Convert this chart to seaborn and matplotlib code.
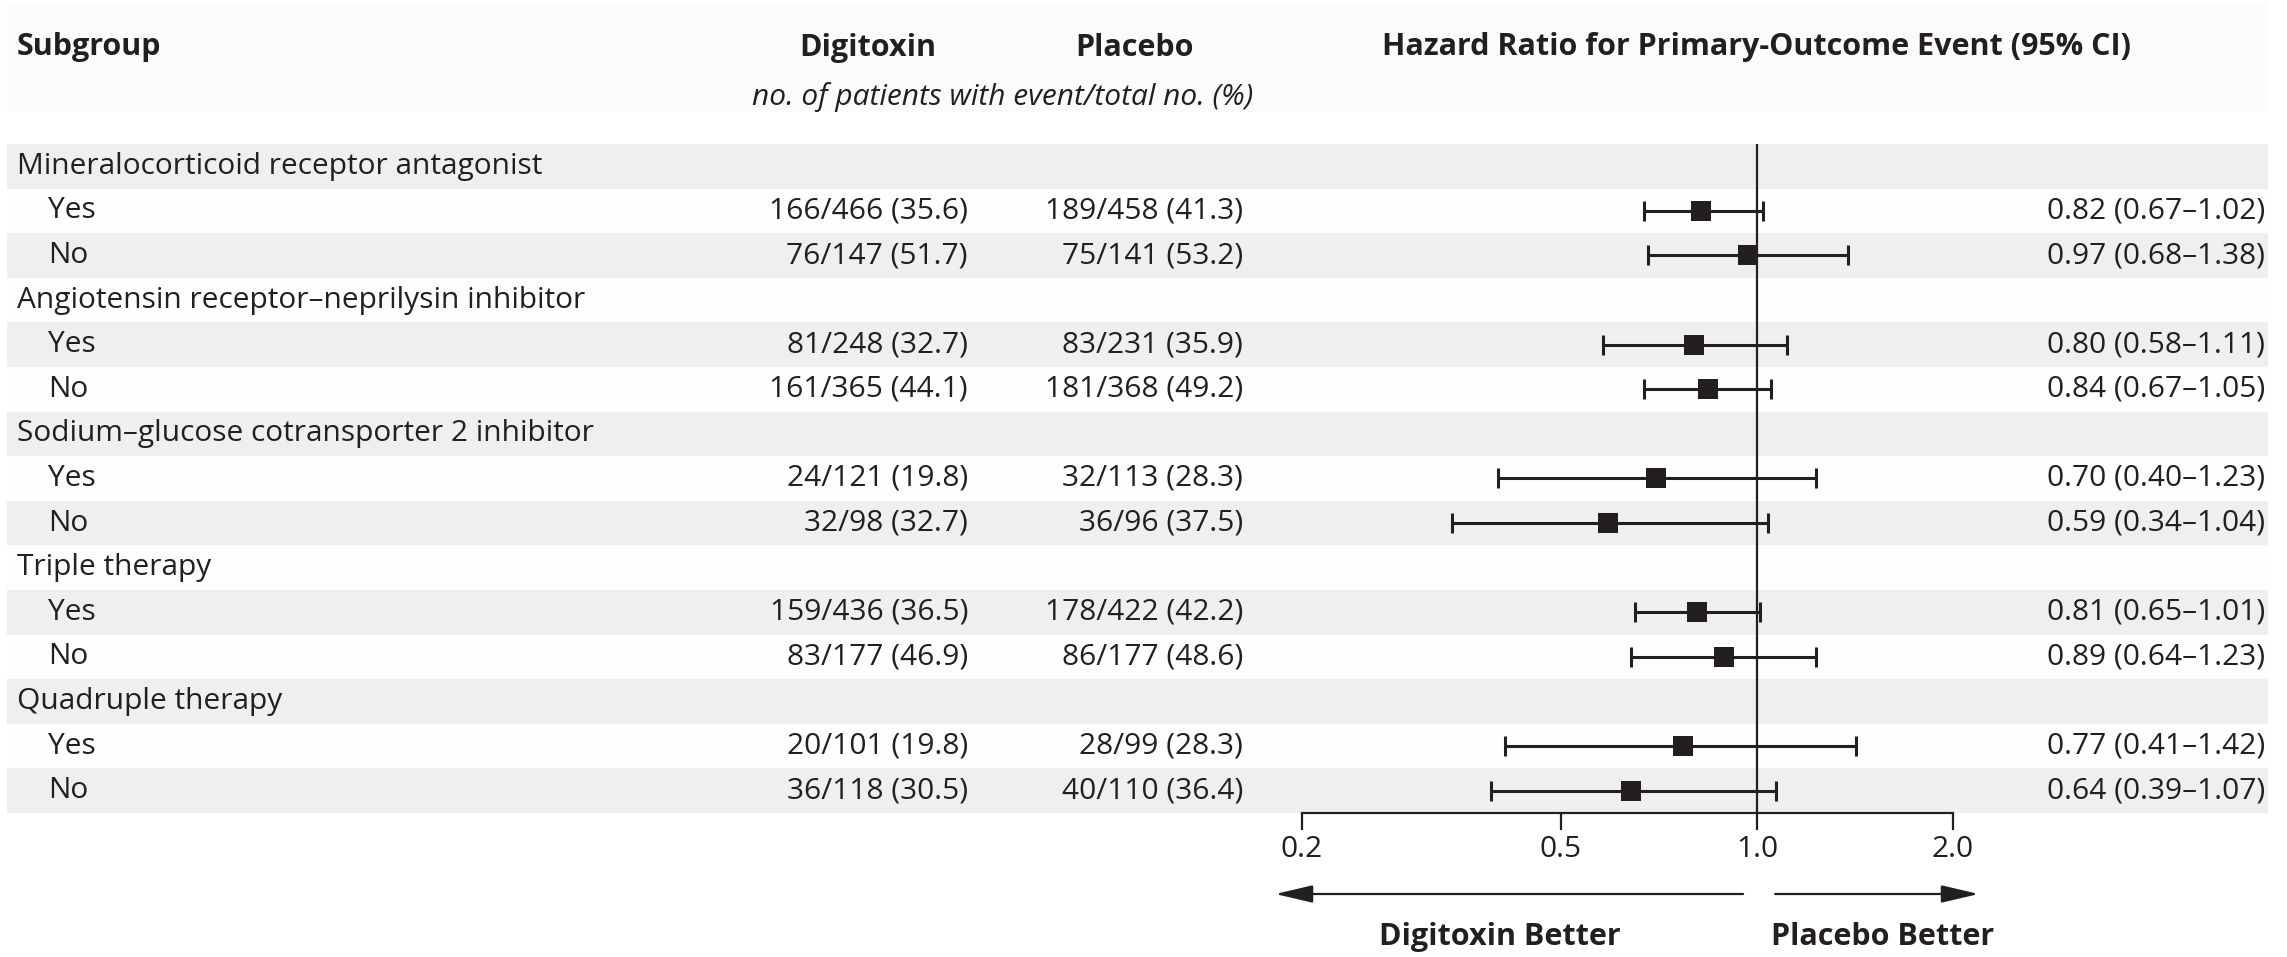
import matplotlib
matplotlib.use("Agg")
import matplotlib.pyplot as plt
import matplotlib.transforms as mtransforms
import seaborn as sns
import pandas as pd
import numpy as np

sns.set_theme(style="white")
plt.rcParams['font.family'] = ['Open Sans', 'DejaVu Sans']

# ---------------- data ----------------
groups = ["Mineralocorticoid receptor antagonist",
          "Angiotensin receptor\u2013neprilysin inhibitor",
          "Sodium\u2013glucose cotransporter 2 inhibitor",
          "Triple therapy",
          "Quadruple therapy"]
levels = ["Yes", "No"]
digitoxin = ["166/466 (35.6)", "76/147 (51.7)",
             "81/248 (32.7)", "161/365 (44.1)",
             "24/121 (19.8)", "32/98 (32.7)",
             "159/436 (36.5)", "83/177 (46.9)",
             "20/101 (19.8)", "36/118 (30.5)"]
placebo = ["189/458 (41.3)", "75/141 (53.2)",
           "83/231 (35.9)", "181/368 (49.2)",
           "32/113 (28.3)", "36/96 (37.5)",
           "178/422 (42.2)", "86/177 (48.6)",
           "28/99 (28.3)", "40/110 (36.4)"]
hr = [0.82, 0.97, 0.80, 0.84, 0.70, 0.59, 0.81, 0.89, 0.77, 0.64]
lo = [0.67, 0.68, 0.58, 0.67, 0.40, 0.34, 0.65, 0.64, 0.41, 0.39]
hi = [1.02, 1.38, 1.11, 1.05, 1.23, 1.04, 1.01, 1.23, 1.42, 1.07]
xticks = [0.2, 0.5, 1.0, 2.0]
xticklabels = ["0.2", "0.5", "1.0", "2.0"]

# ---------------- layout helpers ----------------
W, H = 2287, 957
ink = "#231f20"
fs = 21.5

def fx(px):
    return px / W

def fy(py):
    return 1 - py / H

# build row table
rows = []
r = 0
k = 0
for g in groups:
    rows.append(dict(row=r, label=g, kind="group"))
    r += 1
    for lv in levels:
        rows.append(dict(row=r, label=lv, kind="level", dig=digitoxin[k], pla=placebo[k],
                         hr=hr[k], lo=lo[k], hi=hi[k]))
        r += 1
        k += 1
df = pd.DataFrame(rows)
nrows = len(df)
est = df[df.kind == "level"].copy()

fig = plt.figure(figsize=(W / 100, H / 100), dpi=100)
fig.patch.set_facecolor("white")

top_px, bot_px = 144, 813

# background axes for row bands
bg = fig.add_axes([fx(7), fy(bot_px), fx(2268 - 7), (bot_px - top_px) / H])
bg.set_xlim(0, 1)
bg.set_ylim(nrows - 0.5, -0.5)
for i in range(nrows):
    bg.axhspan(i - 0.5, i + 0.5, color="#efefef" if i % 2 == 0 else "#fefefe", lw=0)
bg.axis("off")

# faint header background
fig.patches.append(matplotlib.patches.Rectangle((fx(7), fy(112)), fx(2268 - 7), fy(4) - fy(112),
                                                transform=fig.transFigure, color="#fbfbfb",
                                                lw=0, zorder=-1))

# forest axes
ax = fig.add_axes([fx(1302), fy(bot_px), fx(1953 - 1302), (bot_px - top_px) / H])
ax.set_facecolor("none")
ax.set_xscale("log")

ax.axvline(1.0, color=ink, lw=1.6, zorder=1)
ax.errorbar(est.hr, est.row,
            xerr=[est.hr - est.lo, est.hi - est.hr],
            fmt="none", ecolor=ink, elinewidth=2.2, capsize=7.5, capthick=2.2, zorder=2)
sns.scatterplot(data=est, x="hr", y="row", marker="s", s=225, color=ink,
                linewidth=0, ax=ax, zorder=3, legend=False)

ax.set_xlim(0.2, 2.0)
ax.set_ylim(nrows - 0.5, -0.5)
ax.set_xticks(xticks)
ax.set_xticklabels(xticklabels)
ax.xaxis.set_minor_locator(matplotlib.ticker.NullLocator())
ax.set_yticks([])
ax.set_xlabel("")
ax.set_ylabel("")
for s in ["top", "right", "left"]:
    ax.spines[s].set_visible(False)
ax.spines["bottom"].set_color(ink)
ax.spines["bottom"].set_linewidth(1.6)
ax.tick_params(axis="x", direction="out", length=12, width=1.6, color=ink,
               labelsize=fs, labelcolor=ink, pad=4, bottom=True)

# text columns
ytr = mtransforms.blended_transform_factory(fig.transFigure, ax.transData)
for _, rw in df.iterrows():
    if rw.kind == "group":
        ax.text(fx(17), rw.row, rw.label, transform=ytr, fontsize=fs, color=ink,
                ha="left", va="center")
    else:
        ax.text(fx(48), rw.row, rw.label, transform=ytr, fontsize=fs, color=ink,
                ha="left", va="center")
        ax.text(fx(968), rw.row, rw.dig, transform=ytr, fontsize=fs, color=ink,
                ha="right", va="center")
        ax.text(fx(1243), rw.row, rw.pla, transform=ytr, fontsize=fs, color=ink,
                ha="right", va="center")
        ax.text(fx(2265), rw.row,
                f"{rw.hr:.2f} ({rw.lo:.2f}\u2013{rw.hi:.2f})",
                transform=ytr, fontsize=fs, color=ink, ha="right", va="center")

# headers
hdr = dict(fontsize=fs + 0.5, color=ink, fontweight="bold", va="center")
fig.text(fx(17), fy(47), "Subgroup", ha="left", **hdr)
fig.text(fx(868), fy(48), "Digitoxin", ha="center", **hdr)
fig.text(fx(1135), fy(48), "Placebo", ha="center", **hdr)
fig.text(fx(1757), fy(47), "Hazard Ratio for Primary-Outcome Event (95% CI)", ha="center", **hdr)
fig.text(fx(1003), fy(97), "no. of patients with event/total no. (%)", ha="center",
         va="center", fontsize=fs, color=ink, style="italic")

# direction arrows
atr = mtransforms.blended_transform_factory(ax.transData, fig.transFigure)
ap = dict(arrowstyle="-|>,head_length=1.15,head_width=0.27", color=ink, lw=1.6,
          mutation_scale=20, shrinkA=0, shrinkB=0)
ax.annotate("", xy=(0.182, fy(894)), xytext=(0.952, fy(894)), xycoords=atr,
            textcoords=atr, arrowprops=ap, annotation_clip=False)
ax.annotate("", xy=(2.19, fy(894)), xytext=(1.066, fy(894)), xycoords=atr,
            textcoords=atr, arrowprops=ap, annotation_clip=False)
fig.text(fx(1500), fy(937), "Digitoxin Better", ha="center", **hdr)
fig.text(fx(1883), fy(937), "Placebo Better", ha="center", **hdr)

fig.savefig("out.png", dpi=100, facecolor="white")
